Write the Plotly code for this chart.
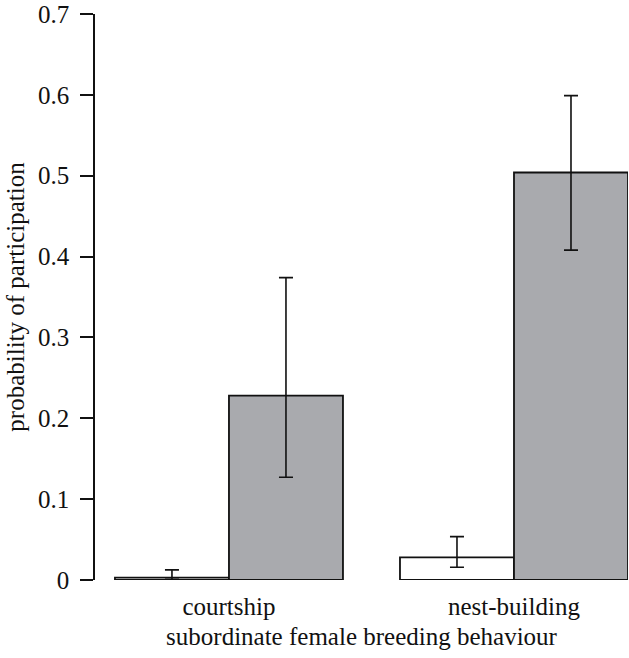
import plotly.graph_objects as go

categories = ["courtship", "nest-building"]
group_a = [0.003, 0.028]
group_a_hi = [0.0125, 0.0536]
group_a_lo = [0.001, 0.0157]
group_b = [0.228, 0.504]
group_b_hi = [0.374, 0.599]
group_b_lo = [0.127, 0.408]

def err(vals, hi, lo):
    return dict(type="data", symmetric=False,
                array=[h - v for h, v in zip(hi, vals)],
                arrayminus=[v - l for v, l in zip(vals, lo)],
                color="#111111", thickness=1.6, width=7)

fig = go.Figure()
fig.add_trace(go.Bar(x=categories, y=group_a, marker=dict(color="white", line=dict(color="#111111", width=1.8)),
                     error_y=err(group_a, group_a_hi, group_a_lo), cliponaxis=False))
fig.add_trace(go.Bar(x=categories, y=group_b, marker=dict(color="#a9aaae", line=dict(color="#111111", width=1.8)),
                     error_y=err(group_b, group_b_hi, group_b_lo), cliponaxis=False))

font = "Liberation Serif"
fig.update_layout(
    width=629, height=658,
    margin=dict(l=95, r=1, t=14, b=78),
    paper_bgcolor="white", plot_bgcolor="white",
    barmode="group", bargap=0.2, bargroupgap=0,
    showlegend=False,
    font=dict(family=font, size=25, color="#111111"),
    xaxis=dict(range=[-0.47, 1.40], showline=False, ticks="", showgrid=False,
               tickfont=dict(size=25), ticklabelstandoff=9,
               title=dict(text="subordinate female breeding behaviour", font=dict(size=25), standoff=8)),
    yaxis=dict(range=[0, 0.7], showline=True, linecolor="#111111", linewidth=1.6,
               ticks="outside", ticklen=13, tickwidth=1.6, tickcolor="#111111",
               tickvals=[0, 0.1, 0.2, 0.3, 0.4, 0.5, 0.6, 0.7],
               ticktext=["0", "0.1", "0.2", "0.3", "0.4", "0.5", "0.6", "0.7"],
               showgrid=False, zeroline=False, tickfont=dict(size=25), ticklabelstandoff=6,
               title=dict(text="probability of participation", font=dict(size=25), standoff=6)),
)
fig.write_html("out.html", config={"displayModeBar": False},
               post_script="document.body.style.margin='0';document.body.style.overflow='hidden';")
